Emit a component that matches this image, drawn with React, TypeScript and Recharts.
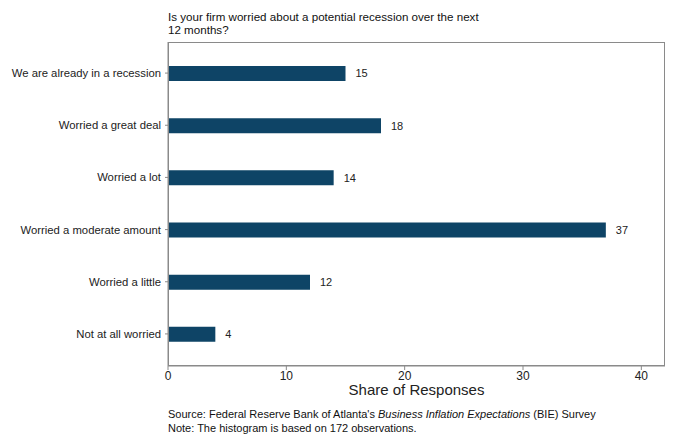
import { BarChart, Bar, XAxis, YAxis, LabelList } from 'recharts';

const categories = [
  'We are already in a recession',
  'Worried a great deal',
  'Worried a lot',
  'Worried a moderate amount',
  'Worried a little',
  'Not at all worried',
];
const shares = [15, 18, 14, 37, 12, 4];
const xTicks = [0, 10, 20, 30, 40];

const data = categories.map((name, i) => ({ name, share: shares[i] }));

const FONT = 'Arial, "Liberation Sans", Helvetica, sans-serif';
const FRAME = '#8a8a8a';
const BAR = '#0e4466';

// single-line category labels, right aligned against the tick
const CategoryTick = ({ x, y, payload }: any) => (
  <text x={x - 2} y={y} dy={4} textAnchor="end" fill="#222" fontSize={11.3} fontFamily={FONT}>
    {payload.value}
  </text>
);

export default function App() {
  return (
    <div style={{ position: 'absolute', left: 0, top: 0, width: 675, height: 445, background: '#fff', fontFamily: FONT }}>
      <div style={{ position: 'absolute', left: 168, top: 10, fontSize: 11.6, lineHeight: '13px', color: '#111' }}>
        Is your firm worried about a potential recession over the next
        <br />
        12 months?
      </div>
      <BarChart
        width={675}
        height={445}
        data={data}
        layout="vertical"
        margin={{ top: 42, right: 10, left: 8, bottom: 49 }}
      >
        <XAxis
          type="number"
          domain={[0, 42]}
          ticks={xTicks}
          allowDataOverflow
          height={30}
          stroke={FRAME}
          tickSize={4}
          tick={{ fill: '#222', fontSize: 12, fontFamily: FONT }}
          tickMargin={1}
        />
        <YAxis
          type="category"
          dataKey="name"
          width={160}
          padding={{ top: 5, bottom: 6 }}
          stroke={FRAME}
          tickSize={3}
          tick={<CategoryTick />}
          interval={0}
        />
        <Bar dataKey="share" fill={BAR} barSize={15} isAnimationActive={false}>
          <LabelList dataKey="share" position="right" offset={10} style={{ fill: '#222', fontSize: 11, fontFamily: FONT }} />
        </Bar>
      </BarChart>
      {/* plot frame */}
      <div
        style={{
          position: 'absolute',
          left: 168,
          top: 42,
          width: 497,
          height: 324,
          boxSizing: 'border-box',
          border: `1px solid ${FRAME}`,
          pointerEvents: 'none',
        }}
      />
      <div style={{ position: 'absolute', left: 168, width: 497, top: 383, textAlign: 'center', fontSize: 15, lineHeight: '14px', color: '#222' }}>
        Share of Responses
      </div>
      <div style={{ position: 'absolute', left: 168, top: 407, fontSize: 11, lineHeight: '14px', color: '#111' }}>
        Source: Federal Reserve Bank of Atlanta's <i>Business Inflation Expectations</i> (BIE) Survey
        <br />
        Note: The histogram is based on 172 observations.
      </div>
    </div>
  );
}
